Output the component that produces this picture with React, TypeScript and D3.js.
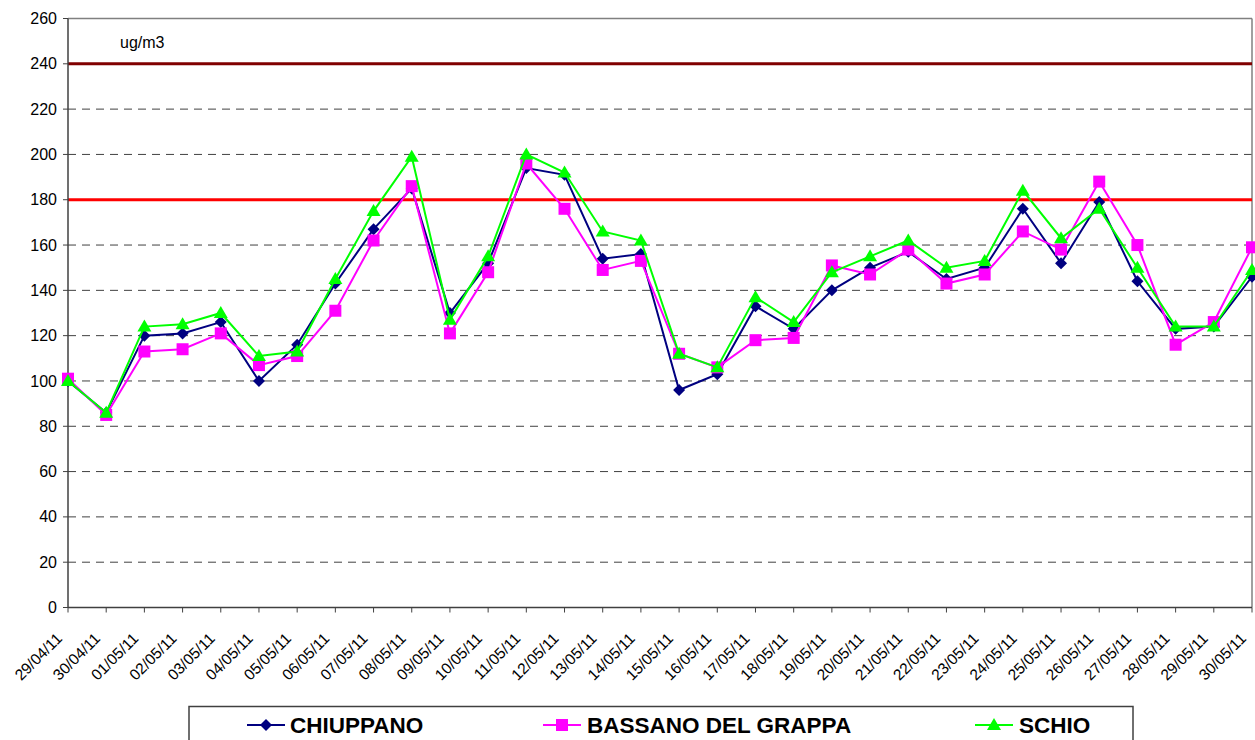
import React from 'react';
import * as d3 from 'd3';

const dates = [
  '29/04/11', '30/04/11', '01/05/11', '02/05/11', '03/05/11', '04/05/11', '05/05/11', '06/05/11',
  '07/05/11', '08/05/11', '09/05/11', '10/05/11', '11/05/11', '12/05/11', '13/05/11', '14/05/11',
  '15/05/11', '16/05/11', '17/05/11', '18/05/11', '19/05/11', '20/05/11', '21/05/11', '22/05/11',
  '23/05/11', '24/05/11', '25/05/11', '26/05/11', '27/05/11', '28/05/11', '29/05/11', '30/05/11',
];

const chiuppano = [
  100, 86, 120, 121, 126, 100, 116, 143, 167, 185, 130, 152, 194, 191, 154, 156,
  96, 103, 133, 123, 140, 150, 157, 145, 150, 176, 152, 179, 144, 123, 124, 146,
];
const bassano = [
  101, 85, 113, 114, 121, 107, 111, 131, 162, 186, 121, 148, 196, 176, 149, 153,
  112, 106, 118, 119, 151, 147, 158, 143, 147, 166, 158, 188, 160, 116, 126, 159,
];
const schio = [
  100, 86, 124, 125, 130, 111, 113, 145, 175, 199, 127, 155, 200, 192, 166, 162,
  112, 106, 137, 126, 148, 155, 162, 150, 153, 184, 163, 176, 150, 124, 124, 149,
];

const yTicks = [0, 20, 40, 60, 80, 100, 120, 140, 160, 180, 200, 220, 240, 260];
const limitAlarm = 240;
const limitInfo = 180;

const series = [
  { name: 'CHIUPPANO', values: chiuppano, color: '#000080', marker: 'diamond' },
  { name: 'BASSANO DEL GRAPPA', values: bassano, color: '#FF00FF', marker: 'square' },
  { name: 'SCHIO', values: schio, color: '#00FF00', marker: 'triangle' },
];

const font = "'Liberation Sans', Arial, sans-serif";

function Marker({ type, x, y, color }: { type: string; x: number; y: number; color: string }) {
  if (type === 'diamond') {
    return <path d={`M${x},${y - 6}L${x + 6},${y}L${x},${y + 6}L${x - 6},${y}Z`} fill={color} />;
  }
  if (type === 'square') {
    return <rect x={x - 6} y={y - 6} width={12} height={12} fill={color} />;
  }
  return <path d={`M${x},${y - 7}L${x + 7},${y + 5}L${x - 7},${y + 5}Z`} fill={color} />;
}

export default function App() {
  const width = 1255;
  const height = 740;
  const left = 68;
  const right = 1252;
  const top = 18.5;
  const bottom = 607.5;

  const x = d3.scalePoint<string>().domain(dates).range([left, right]);
  const y = d3.scaleLinear().domain([0, 260]).range([bottom, top]);

  const line = d3.line<number>()
    .x((_, i) => x(dates[i]) as number)
    .y(d => y(d));

  // legend swatch start / text start
  const legendItems = [
    { lx: 247, tx: 290 },
    { lx: 543, tx: 587 },
    { lx: 975, tx: 1019 },
  ];

  return (
    <svg width={width} height={height} style={{ position: 'absolute', left: 0, top: 0, background: '#fff' }}
      fontFamily={font}>
      {/* gridlines */}
      {yTicks.filter(t => t > 0 && t < 260).map(t => (
        <line key={t} x1={left} x2={right} y1={y(t)} y2={y(t)} stroke="#404040" strokeWidth={1}
          strokeDasharray="8,6" />
      ))}
      {/* plot border */}
      <line x1={left} x2={right} y1={y(260)} y2={y(260)} stroke="#808080" strokeWidth={1.5} />
      <line x1={right} x2={right} y1={y(260)} y2={y(0)} stroke="#808080" strokeWidth={1.5} />

      {/* limit lines */}
      <line x1={left} x2={right} y1={y(limitAlarm)} y2={y(limitAlarm)} stroke="#800000" strokeWidth={3} />
      <line x1={left} x2={right} y1={y(limitInfo)} y2={y(limitInfo)} stroke="#FF0000" strokeWidth={3} />

      {/* axes */}
      <line x1={left} x2={left} y1={y(260)} y2={y(0)} stroke="#404040" strokeWidth={1.5} />
      <line x1={left} x2={right} y1={y(0)} y2={y(0)} stroke="#404040" strokeWidth={1.5} />
      {yTicks.map(t => (
        <g key={t}>
          <line x1={left - 5} x2={left} y1={y(t)} y2={y(t)} stroke="#404040" />
          <text x={left - 11} y={y(t)} dy="0.35em" textAnchor="end" fontSize={16}>{t}</text>
        </g>
      ))}
      {dates.map(d => (
        <g key={d}>
          <line x1={x(d)} x2={x(d)} y1={y(0)} y2={y(0) + 5} stroke="#404040" />
          <text transform={`translate(${(x(d) as number) - 5},${y(0) + 32}) rotate(-45)`} textAnchor="end"
            fontSize={15.5}>{d}</text>
        </g>
      ))}

      <text x={120} y={48} fontSize={16}>ug/m3</text>

      {/* series */}
      {series.map(s => (
        <g key={s.name}>
          <path d={line(s.values) || ''} fill="none" stroke={s.color} strokeWidth={2} />
          {s.values.map((v, i) => (
            <Marker key={i} type={s.marker} x={x(dates[i]) as number} y={y(v)} color={s.color} />
          ))}
        </g>
      ))}

      {/* legend */}
      <rect x={189} y={706.5} width={944} height={40} fill="#fff" stroke="#404040" strokeWidth={1.5} />
      {series.map((s, i) => {
        const it = legendItems[i];
        return (
          <g key={s.name}>
            <line x1={it.lx} x2={it.lx + 38} y1={725} y2={725} stroke={s.color} strokeWidth={2} />
            <Marker type={s.marker} x={it.lx + 19} y={725} color={s.color} />
            <text x={it.tx} y={733} fontSize={22.5} fontWeight="bold">{s.name}</text>
          </g>
        );
      })}
    </svg>
  );
}
